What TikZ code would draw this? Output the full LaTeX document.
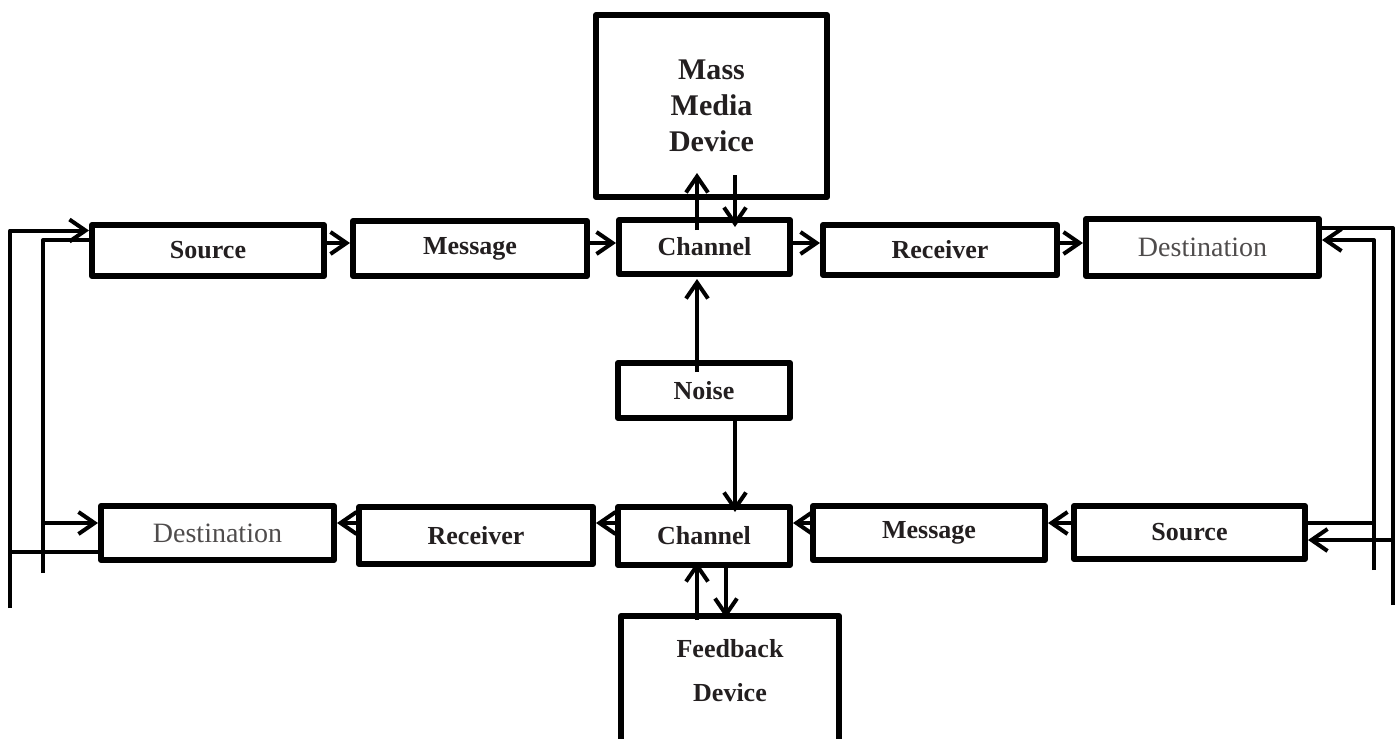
\documentclass[tikz,border=0pt]{standalone}
\usepackage{fontspec}
\setmainfont{Liberation Serif}
\usetikzlibrary{arrows.meta,calc}
\definecolor{ink}{HTML}{231F20}
\begin{document}
\begin{tikzpicture}[x=0.5pt, y=-0.5pt, line join=round, >={Straight Barb[length=8pt,width=11pt]},
  box/.style={draw, line width=3pt, inner sep=0pt, text=ink, font=\fontsize{13}{15}\selectfont\bfseries},
  plain/.style={font=\fontsize{14}{16}\selectfont, text=ink!80},
  con/.style={line width=2pt}]
\useasboundingbox (0,0) rectangle (1395,738);
% upper line
\node[box, minimum width=116pt, minimum height=25.5pt] (src1) at (208,250.5) {Source};
\node[box, minimum width=117pt, minimum height=27.5pt] (msg1) at (470,248.5) {Message};
\node[box, minimum width=85.5pt, minimum height=27pt] (chan1) at (704.5,247) {Channel};
\node[box, minimum width=117pt, minimum height=25pt] (rec1) at (940,250) {Receiver};
\node[box, plain, minimum width=116.5pt, minimum height=28.5pt] (dst1) at (1202.5,247.5) {Destination};
\node[box, align=center, minimum width=115.5pt, minimum height=91pt,
  font=\fontsize{15}{18}\selectfont\bfseries] (mass) at (711.5,106) {Mass\\Media\\Device};
\node[box, minimum width=86pt, minimum height=27.5pt] (noise) at (704,390.5) {Noise};
% lower line
\node[box, plain, minimum width=116.5pt, minimum height=27pt] (dst2) at (217.5,533) {Destination};
\node[box, minimum width=117pt, minimum height=28.5pt] (rec2) at (476,535.5) {Receiver};
\node[box, minimum width=86pt, minimum height=29pt] (chan2) at (704,536) {Channel};
\node[box, minimum width=116pt, minimum height=27pt] (msg2) at (929,533) {Message};
\node[box, minimum width=115.5pt, minimum height=26.5pt] (src2) at (1189.5,532.5) {Source};
\node[box, anchor=north, minimum width=109pt, minimum height=80pt] (feed) at (730,613) {};
\node[align=center, text=ink, font=\fontsize{13}{22}\selectfont\bfseries] (feedtxt) at ($(feed.north)+(0,58)$) {Feedback\\Device};
\coordinate (row1) at (0,243);
\coordinate (row2) at (0,523);
\coordinate (la) at (10,608);
\coordinate (lb) at (43,573);
\coordinate (ra) at (1393,605);
\coordinate (rb) at (1374,570);
% message flow
\draw[con,->] (src1.east |- row1) -- (msg1.west |- row1);
\draw[con,->] (msg1.east |- row1) -- (chan1.west |- row1);
\draw[con,->] (chan1.east |- row1) -- (rec1.west |- row1);
\draw[con,->] (rec1.east |- row1) -- (dst1.west |- row1);
\draw[con,->] (src2.west |- row2) -- (msg2.east |- row2);
\draw[con,->] (msg2.west |- row2) -- (chan2.east |- row2);
\draw[con,->] (chan2.west |- row2) -- (rec2.east |- row2);
\draw[con,->] (rec2.west |- row2) -- (dst2.east |- row2);
% devices and noise
\draw[con,->] ($(chan1.north)+(-7.5,13)$) -- ($(mass.south)+(-14.5,-27)$);
\draw[con,->] ($(mass.south)+(23.5,-25)$) -- ($(chan1.north)+(30.5,10)$);
\draw[con,->] ($(noise.north)+(-7,12)$) -- ($(chan1.south)+(-7.5,2)$);
\draw[con,->] ($(noise.south)+(31,0)$) -- ($(chan2.north)+(31,8)$);
\draw[con,->] ($(feed.north)+(-33,7)$) -- ($(chan2.south)+(-7,-6)$);
\draw[con,->] ($(chan2.south)+(22,0)$) -- ($(feed.north)+(-4,5)$);
% loops at the sides
\draw[con,->] (la) |- ([yshift=10pt]src1.west);
\draw[con] ([yshift=-9.5pt]dst2.west) -| (la);
\draw[con] ([yshift=5.25pt]src1.west) -| (lb);
\draw[con,->] (lb) |- ([yshift=5pt]dst2.west);
\draw[con] ([yshift=9.75pt]dst1.east) -| (ra);
\draw[con,->] (ra) |- ([yshift=-3.75pt]src2.east);
\draw[con,->] (rb) |- ([yshift=3.75pt]dst1.east);
\draw[con] ([yshift=4.75pt]src2.east) -| (rb);
\end{tikzpicture}
\end{document}
